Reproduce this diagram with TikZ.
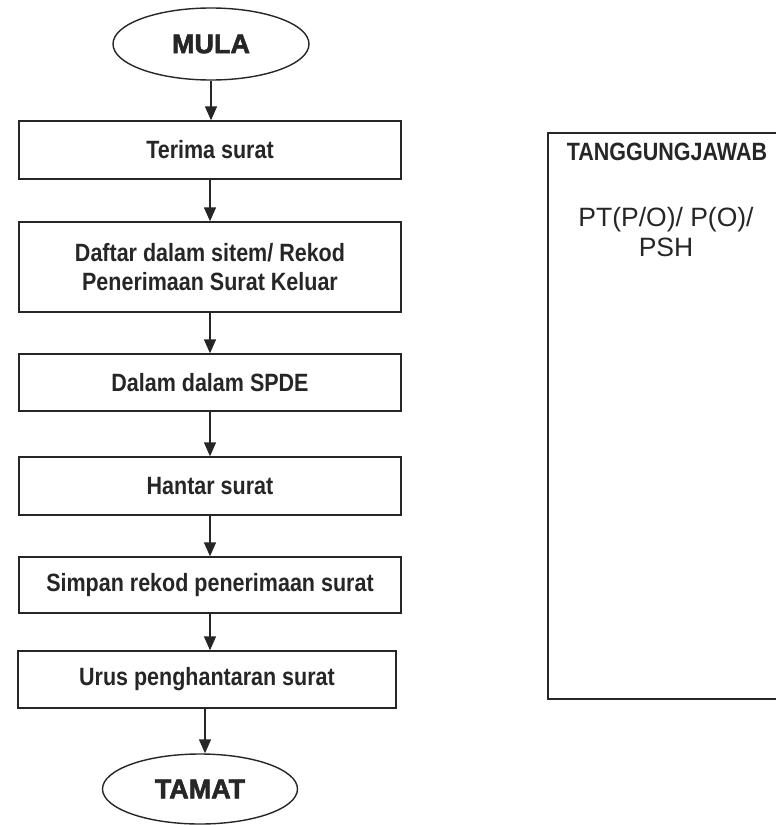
\documentclass[tikz,border=0pt]{standalone}
\usepackage{fontspec}
\setmainfont{Liberation Sans}
\newfontfamily\heavyface[FakeBold=2.2]{Liberation Sans Bold}
\newfontfamily\boxface[FakeStretch=0.86]{Liberation Sans Bold}
\usetikzlibrary{shapes.geometric,arrows.meta}
\definecolor{ink}{HTML}{262626}
\begin{document}
\begin{tikzpicture}[x=1pt,y=-1pt,
  line width=1.4pt, draw=ink, text=ink,
  stepbox/.style={draw, rectangle, minimum width=382pt, inner sep=0pt,
    align=center, font=\fontsize{25}{29}\boxface},
  terminal/.style={draw, ellipse, minimum width=196pt, minimum height=72pt,
    inner sep=0pt, font=\fontsize{27}{30}\heavyface},
  flow/.style={-{Triangle[width=12pt,length=14pt]}}]
\clip (0,0) rectangle (776,825);
\fill[white] (0,0) rectangle (776,825);

% start / end terminals
\node[terminal] (mula) at (211,44) {MULA};
\node[terminal, minimum width=195pt, minimum height=70pt] (tamat) at (200,789) {TAMAT};

% process steps
\node[stepbox, minimum height=58pt] (terima) at (210,150) {Terima surat};
\node[stepbox, minimum height=90pt] (daftar) at (210,267) {Daftar dalam sitem/ Rekod\\Penerimaan Surat Keluar};
\node[stepbox, minimum height=57pt] (spde) at (210,382.5) {Dalam dalam SPDE};
\node[stepbox, minimum height=58pt] (hantar) at (210,486) {Hantar surat};
\node[stepbox, minimum height=56pt] (simpan) at (210,585) {Simpan rekod penerimaan surat};
\node[stepbox, minimum height=57pt, minimum width=378pt] (urus) at (207,679.5) {Urus penghantaran surat};

% connectors
\draw[flow] (mula.south) -- (mula.south |- terima.north);
\draw[flow] (terima.south) -- (terima.south |- daftar.north);
\draw[flow] (daftar.south) -- (daftar.south |- spde.north);
\draw[flow] (spde.south) -- (spde.south |- hantar.north);
\draw[flow] (hantar.south) -- (hantar.south |- simpan.north);
\draw[flow] (simpan.south) -- (simpan.south |- urus.north);
\draw[flow] ([xshift=-2pt]urus.south) -- ([xshift=-2pt]urus.south |- tamat.north);

% responsibility column
\node[draw, rectangle, line width=1.6pt, minimum width=260pt, minimum height=566pt, inner sep=0pt,
  anchor=north west] (resp) at (547,132) {};
\node[font=\fontsize{25}{29}\boxface] (respTitle) at (667,152) {TANGGUNGJAWAB};
\node[font=\fontsize{26.5}{30}\selectfont, align=center] (respWho) at (666,232) {PT(P/O)/ P(O)/\\PSH};
\end{tikzpicture}
\end{document}
